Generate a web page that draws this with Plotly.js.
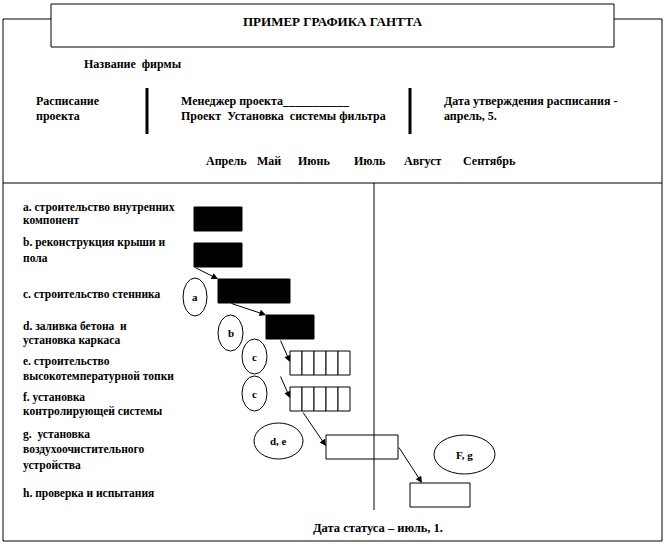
<!DOCTYPE html>
<html><head><meta charset="utf-8">
<script src="https://cdn.plot.ly/plotly-3.0.1.min.js"></script>
<style>html,body{margin:0;padding:0;background:#fff;}</style>
</head><body><div id="chart" style="width:666px;height:546px;"></div>
<script>
// ---------- DATA ----------
const taskIds = ['a','b','c','d','e','f','g','h'];
const taskLabels = [
  ['a. строительство внутренних','компонент'],
  ['b. реконструкция крыши и','пола'],
  ['c. строительство стенника'],
  ['d. заливка бетона  и','установка каркаса'],
  ['e. строительство','высокотемпературной топки'],
  ['f. установка','контролирующей системы'],
  ['g.  установка','воздухоочистительного','устройства'],
  ['h. проверка и испытания']
];
// time in half-month units from project start
const taskStart    = [0, 0, 1, 3, 4, 4, 5.5, 9];
const taskDuration = [2, 2, 3, 2, 2.5, 2.5, 3, 2.5];
const taskDone     = [true, true, true, true, false, false, false, false];
const taskCells    = [1, 1, 1, 1, 5, 5, 1, 1];
const monthLabels  = ['Апрель','Май','Июнь','Июль','Август','Сентябрь'];
const statusDate   = 7.5;
const dependencies = [['b','c'],['c','d'],['d','e'],['d','f'],['f','g'],['g','h']];
const bubbleLabels = ['a','b','c','c','d, e','F, g'];

const titleText   = 'ПРИМЕР ГРАФИКА ГАНТТА';
const firmText    = 'Название  фирмы';
const schedText   = ['Расписание','проекта'];
const managerText = ['Менеджер проекта___________','Проект  Установка  системы фильтра'];
const approvText  = ['Дата утверждения расписания -','апрель, 5.'];
const statusText  = 'Дата статуса – июль, 1.';

// ---------- LAYOUT CONFIG (pixels) ----------
const W = 666, H = 546;
const X0 = 194, UNIT = 24;          // pixel of time 0, pixels per time unit
const rowY = [219, 255, 291, 327, 363, 399, 447, 495];
const barH = 24;
const labelX = 22;
const labelLineY = [[207,220],[242,258],[294],[326,340],[361,376],[397,411],[434,449,465],[493]];
const monthX = [205, 256, 297, 353, 403, 462];
const monthY = 161;
const titleBox = [51, 4, 614, 47];
const frameTop = 19;
const bubbles = [[195,297,12,19],[230.5,333,12.5,18],[254.5,356.5,12.5,17.5],[254.5,393.5,12.5,17.5],[278.5,441,24.5,18],[464.5,454.5,30.5,19.5]];
// connector anchors: [tail dx from start, tail edge, head dx from start, head edge]
const connectorSpec = [
  [0, 'bottom', 0, 'top'],
  [0.5, 'bottom', 0, 'top'],
  [0.58, 'bottom', 0, 'mid'],
  [0.58, 'bottomNext', 0, 'mid'],
  [0.5, 'bottom', 0, 'mid'],
  ['end', 'mid', 0.5, 'top']
];

const X = p => p / W;
const Y = p => 1 - p / H;
const FONT = 'Liberation Serif';

// ---------- TRACES ----------
const doneIdx = taskIds.map((_, i) => i).filter(i => taskDone[i]);
const openY = [], openX = [], openBase = [];
taskIds.forEach((_, i) => {
  if (taskDone[i]) return;
  const n = taskCells[i], d = taskDuration[i] / n;
  for (let k = 0; k < n; k++) { openY.push(rowY[i]); openX.push(d); openBase.push(taskStart[i] + k * d); }
});
const traces = [
  {type:'bar', orientation:'h', y: doneIdx.map(i => rowY[i]), x: doneIdx.map(i => taskDuration[i]),
   base: doneIdx.map(i => taskStart[i]), width: barH,
   marker:{color:'#000', line:{color:'#000', width:1}}, hoverinfo:'skip', showlegend:false},
  {type:'bar', orientation:'h', y: openY, x: openX, base: openBase, width: barH,
   marker:{color:'#fff', line:{color:'#000', width:1}}, hoverinfo:'skip', showlegend:false}
];

// ---------- SHAPES ----------
const line = (x0,y0,x1,y1,w) => ({type:'line', xref:'paper', yref:'paper', x0:X(x0), y0:Y(y0), x1:X(x1), y1:Y(y1), line:{color:'#000', width:w||1}});
const shapes = [
  line(3,frameTop,titleBox[0],frameTop), line(titleBox[2],frameTop,662,frameTop),
  line(3,frameTop,3,541), line(662,frameTop,662,541), line(3,541,662,541),
  {type:'rect', xref:'paper', yref:'paper', x0:X(titleBox[0]), y0:Y(titleBox[1]), x1:X(titleBox[2]), y1:Y(titleBox[3]), line:{color:'#000', width:1}, fillcolor:'#fff'},
  line(3,183,662,183),
  line(147,88,147,134,3), line(410,88,410,134,3),
  {type:'line', xref:'x', yref:'paper', x0:statusDate, x1:statusDate, y0:Y(183), y1:Y(510), line:{color:'#000', width:1}}
];
bubbles.forEach(b => shapes.push({type:'circle', xref:'paper', yref:'paper',
  x0:X(b[0]-b[2]), x1:X(b[0]+b[2]), y0:Y(b[1]-b[3]), y1:Y(b[1]+b[3]), line:{color:'#000', width:1}}));

// ---------- ANNOTATIONS ----------
const ann = [];
const txt = (text, x, y, size, bold, anchor) => ann.push({xref:'paper', yref:'paper', x:X(x), y:Y(y),
  text: bold ? '<b>' + text + '</b>' : text, showarrow:false, xanchor: anchor || 'left', yanchor:'middle',
  borderpad:0, font:{family:FONT, size:size, color:'#000'}});

txt(titleText, (titleBox[0] + titleBox[2]) / 2, 22, 13, true, 'center');
txt(firmText, 83, 64, 12, true);
txt(schedText[0], 35, 101, 12, true); txt(schedText[1], 35, 116, 12, true);
txt(managerText[0], 180, 101, 12, true); txt(managerText[1], 180, 116, 12, true);
txt(approvText[0], 443, 101, 12, true); txt(approvText[1], 443, 116, 12, true);
monthLabels.forEach((m, i) => txt(m, monthX[i], monthY, 12, true));
taskLabels.forEach((lines, i) => lines.forEach((l, k) => txt(l, labelX, labelLineY[i][k], 11.5, true)));
bubbles.forEach((b, i) => txt(bubbleLabels[i], b[0], b[1], 11, true, 'center'));
txt(statusText, 378, 528, 12.5, true, 'center');

const idx = id => taskIds.indexOf(id);
const edgeY = (i, e) => e === 'top' ? rowY[i] - barH/2 : e === 'bottom' ? rowY[i] + barH/2 : e === 'bottomNext' ? rowY[i+1] + barH/2 : rowY[i] - 1;
dependencies.forEach((dep, k) => {
  const p = idx(dep[0]), s = idx(dep[1]), sp = connectorSpec[k];
  const tx = sp[0] === 'end' ? taskStart[p] + taskDuration[p] : taskStart[p] + sp[0];
  ann.push({xref:'x', yref:'y', axref:'x', ayref:'y',
    x: taskStart[s] + sp[2], y: edgeY(s, sp[3]), ax: tx, ay: edgeY(p, sp[1]),
    showarrow:true, arrowhead:2, arrowsize:1.3, arrowwidth:1, arrowcolor:'#000', text:'', standoff:0});
});

const layout = {
  width: W, height: H, margin:{l:0, r:0, t:0, b:0, pad:0},
  paper_bgcolor:'#fff', plot_bgcolor:'rgba(0,0,0,0)', barmode:'overlay',
  xaxis:{range:[-X0/UNIT, (W - X0)/UNIT], visible:false, fixedrange:true},
  yaxis:{range:[H, 0], visible:false, fixedrange:true},
  shapes: shapes, annotations: ann, showlegend:false
};
Plotly.newPlot('chart', traces, layout, {staticPlot:true, displayModeBar:false});
</script></body></html>
